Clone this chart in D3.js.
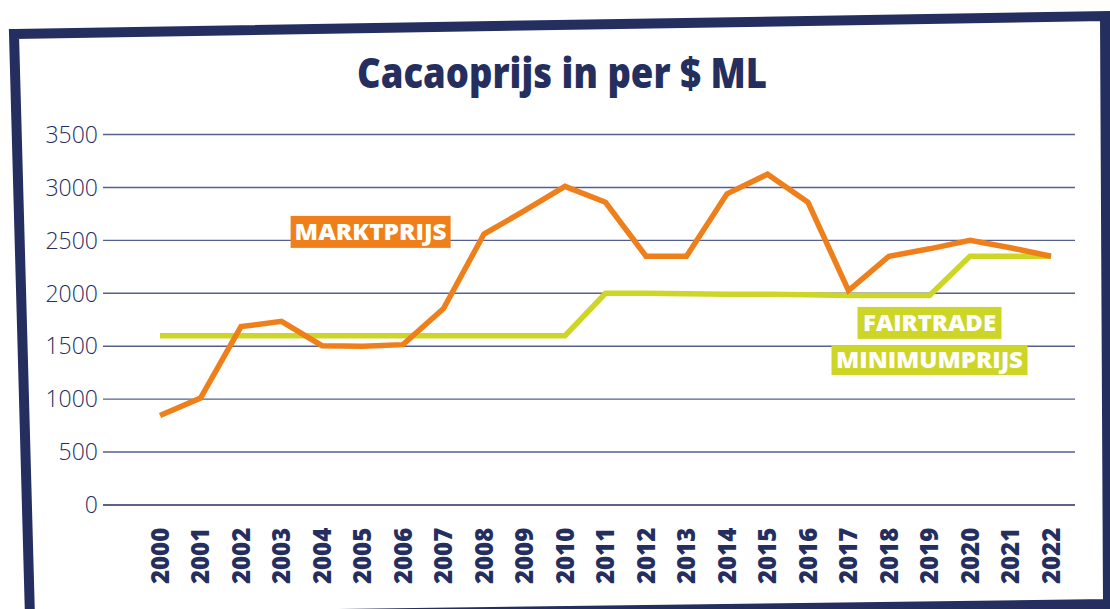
<!DOCTYPE html>
<html>
<head>
<meta charset="utf-8">
<script src="https://cdn.jsdelivr.net/npm/d3@7"></script>
<style>
  body { margin: 0; background: #fff; }
</style>
</head>
<body>
<svg id="chart" width="1110" height="609"></svg>
<script>
// data
const years = [2000, 2001, 2002, 2003, 2004, 2005, 2006, 2007, 2008, 2009, 2010,
               2011, 2012, 2013, 2014, 2015, 2016, 2017, 2018, 2019, 2020, 2021, 2022];
const marktprijs = [845, 1010, 1685, 1735, 1505, 1500, 1515, 1855, 2560, 2780, 3010,
                    2860, 2350, 2350, 2940, 3125, 2860, 2025, 2350, 2420, 2500, 2430, 2350];
const fairtrade = [1600, 1600, 1600, 1600, 1600, 1600, 1600, 1600, 1600, 1600, 1600,
                   2000, 2000, 1995, 1990, 1990, 1985, 1980, 1980, 1980, 2350, 2350, 2350];
const yTicks = [0, 500, 1000, 1500, 2000, 2500, 3000, 3500];
const title = "Cacaoprijs in per $ ML";

const width = 1110, height = 609;
const navy = "#242e5f", orange = "#ef7f1a", lime = "#cdd627", grid = "#55608f";

const svg = d3.select("#chart")
    .attr("viewBox", [0, 0, width, height]);

const x = d3.scaleLinear().domain([2000, 2022]).range([160, 1051]);
const y = d3.scaleLinear().domain([0, 3500]).range([505, 134.5]);
const gridX0 = 103, gridX1 = 1075;

// slightly skewed hand-made frame
svg.append("path")
    .attr("d", "M14,34 L1105,16 L1108,604 L30,618 Z")
    .attr("fill", "none")
    .attr("stroke", navy)
    .attr("stroke-width", 10)
    .attr("stroke-linejoin", "miter");

// title
svg.append("text")
    .attr("x", 562)
    .attr("y", 88)
    .attr("text-anchor", "middle")
    .attr("fill", navy)
    .style("font", "800 42px 'Open Sans', Lato, sans-serif")
    .attr("textLength", 410)
    .attr("lengthAdjust", "spacingAndGlyphs")
    .text(title);

// grid lines + y labels
const yAxis = svg.append("g");
yAxis.selectAll("line")
    .data(yTicks)
    .join("line")
    .attr("x1", gridX0)
    .attr("x2", gridX1)
    .attr("y1", d => y(d))
    .attr("y2", d => y(d))
    .attr("stroke", d => d === 0 ? navy : grid)
    .attr("stroke-width", 1.4);

yAxis.selectAll("text")
    .data(yTicks)
    .join("text")
    .attr("x", 98)
    .attr("y", d => y(d))
    .attr("dy", "0.36em")
    .attr("text-anchor", "end")
    .attr("fill", navy)
    .style("font", "300 23px 'Open Sans', Lato, sans-serif")
    .text(d => d);

// x labels, rotated
svg.append("g").selectAll("text")
    .data(years)
    .join("text")
    .attr("transform", d => `translate(${x(d)},584) rotate(-90)`)
    .attr("dy", "0.36em")
    .attr("text-anchor", "start")
    .attr("fill", navy)
    .style("font", "800 24px 'Open Sans', Lato, sans-serif")
    .text(d => d);

// lines
const line = d3.line()
    .x((d, i) => x(years[i]))
    .y(d => y(d));

svg.append("path")
    .datum(fairtrade)
    .attr("d", line)
    .attr("fill", "none")
    .attr("stroke", lime)
    .attr("stroke-width", 5.5);

svg.append("path")
    .datum(marktprijs)
    .attr("d", line)
    .attr("fill", "none")
    .attr("stroke", orange)
    .attr("stroke-width", 5.5);

// labels in boxes
function tag(label, cx, cy, w, h, textW, color) {
    const g = svg.append("g");
    g.append("rect")
        .attr("x", cx - w / 2)
        .attr("y", cy - h / 2)
        .attr("width", w)
        .attr("height", h)
        .attr("fill", color);
    g.append("text")
        .attr("x", cx)
        .attr("y", cy)
        .attr("dy", "0.36em")
        .attr("text-anchor", "middle")
        .attr("fill", "#fff")
        .style("font", "800 22px 'Open Sans', Lato, sans-serif")
        .attr("textLength", textW)
        .attr("lengthAdjust", "spacingAndGlyphs")
        .text(label);
}

tag("MARKTPRIJS", x(2005.2), y(2580), 160, 32, 152, orange);
tag("FAIRTRADE", x(2019), y(1720), 144, 32, 133, lime);
tag("MINIMUMPRIJS", x(2019), y(1370), 196, 30, 187, lime);
</script>
</body>
</html>
